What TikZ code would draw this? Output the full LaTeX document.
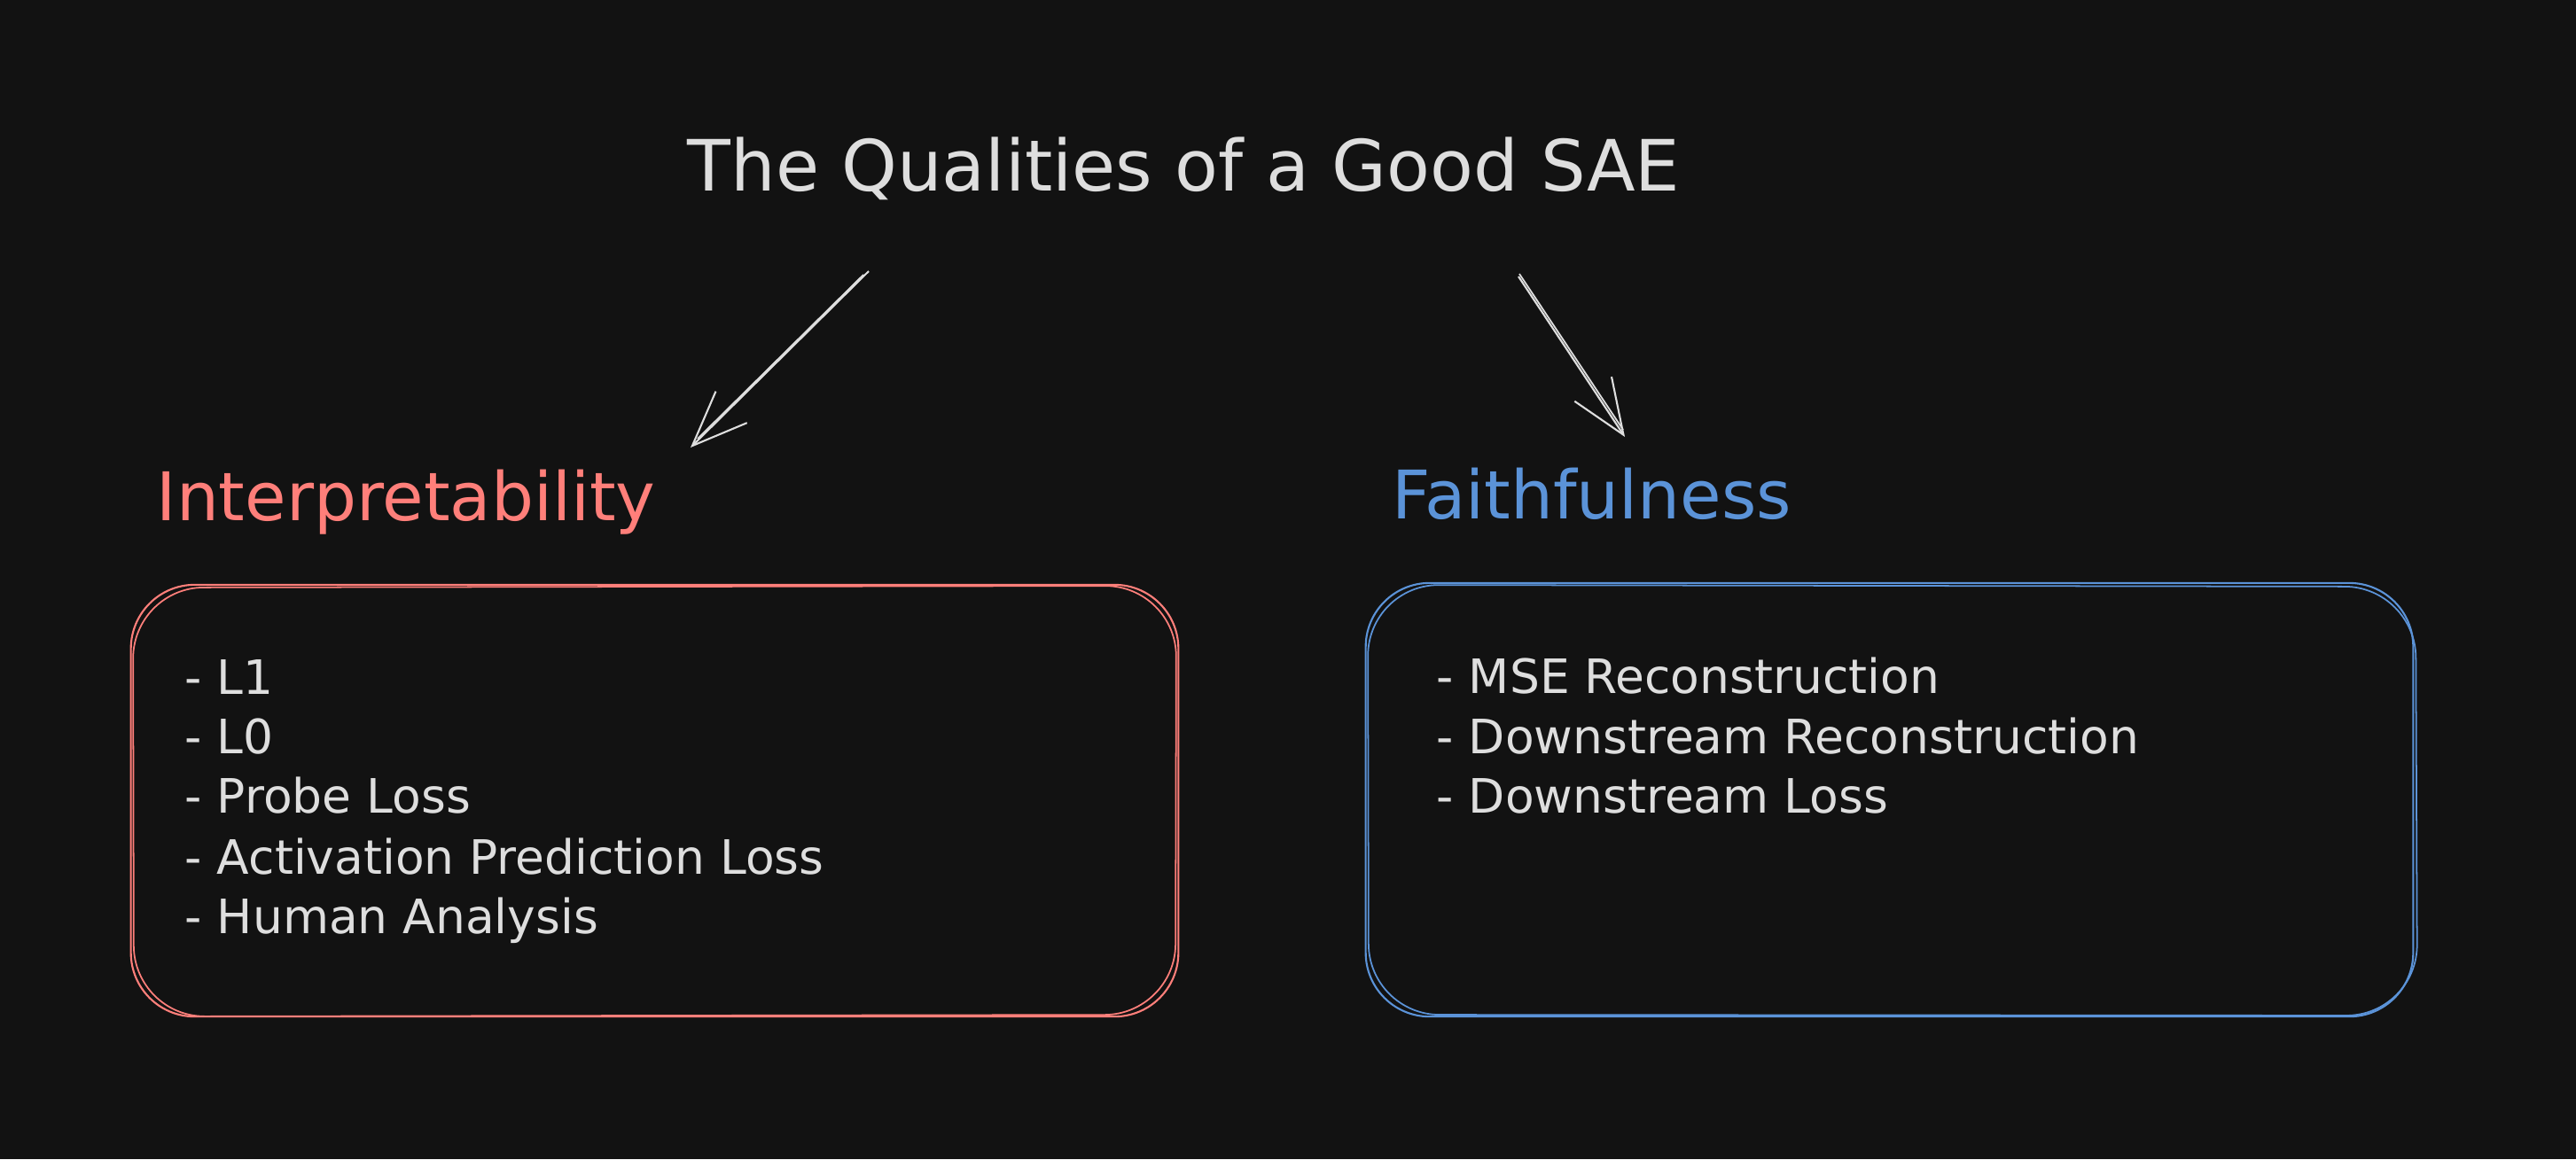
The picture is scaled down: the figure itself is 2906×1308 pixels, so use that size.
\documentclass[tikz,border=0pt]{standalone}
\usepackage{fontspec}
\setmainfont{DejaVu Sans}
\usetikzlibrary{arrows.meta}
\definecolor{bgc}{HTML}{121212}
\definecolor{txt}{HTML}{DEDEDE}
\definecolor{redc}{HTML}{FF7F7A}
\definecolor{bluec}{HTML}{5B93D8}
\tikzset{
  lbl/.style={anchor=base west, inner sep=0pt, text=txt},
  titlefont/.style={font=\fontsize{22.7}{27}\selectfont},
  headfont/.style={font=\fontsize{21.5}{25}\selectfont},
  itemfont/.style={font=\fontsize{15.2}{19}\selectfont},
  sketchbox/.style={draw, line width=0.6pt, rounded corners=0.72cm},
  arr/.style={draw=txt, line width=0.6pt, -{Straight Barb[length=0.62cm, width=0.5cm, line width=0.6pt]}},
  arrdup/.style={draw=txt, line width=0.5pt},
}
\begin{document}
\begin{tikzpicture}[x=0.01cm, y=-0.01cm]
\fill[bgc] (0,0) rectangle (2906,1308);
\useasboundingbox (0,0) rectangle (2906,1308);

% title and headings
\node[lbl, titlefont] (title) at (775,215) {The Qualities of a Good SAE};
\node[lbl, headfont, text=redc] (interp) at (176,587) {Interpretability};
\node[lbl, headfont, text=bluec] (faith) at (1570,585) {Faithfulness};

% boxes (sketchy double stroke)
\node[sketchbox, draw=redc, minimum width=11.81cm, minimum height=4.87cm] (lbox) at (738.5,903.5) {};
\draw[redc, line width=0.5pt, rounded corners=0.8cm] (150,663) -- (1327,661) -- (1326,1145) -- (151,1147) -- cycle;
\node[sketchbox, draw=bluec, minimum width=11.81cm, minimum height=4.89cm] (rbox) at (2131.5,902.5) {};
\draw[bluec, line width=0.5pt, rounded corners=0.8cm] (1543,660) -- (2725,662) -- (2727,1146) -- (1544,1145) -- cycle;

% left items
\node[lbl, itemfont] (l1) at (208,783) {- L1};
\node[lbl, itemfont] (l2) at (208,850) {- L0};
\node[lbl, itemfont] (l3) at (208,917) {- Probe Loss};
\node[lbl, itemfont] (l4) at (208,986) {- Activation Prediction Loss};
\node[lbl, itemfont] (l5) at (208,1053) {- Human Analysis};

% right items
\node[lbl, itemfont] (r1) at (1620,782) {- MSE Reconstruction};
\node[lbl, itemfont] (r2) at (1620,850) {- Downstream Reconstruction};
\node[lbl, itemfont] (r3) at (1620,917) {- Downstream Loss};

% arrows
\coordinate (la0) at (980,306);
\coordinate (la1) at (779,505);
\coordinate (ra0) at (1713,312);
\coordinate (ra1) at (1833,493);
\draw[arr] (la0) -- (la1);
\draw[arrdup] ([shift={(-6,4)}]la0) -- ([shift={(8,-10)}]la1);
\draw[arr] (ra0) -- (ra1);
\draw[arrdup] ([shift={(1,-3)}]ra0) -- ([shift={(-2,-8)}]ra1);
\end{tikzpicture}
\end{document}
